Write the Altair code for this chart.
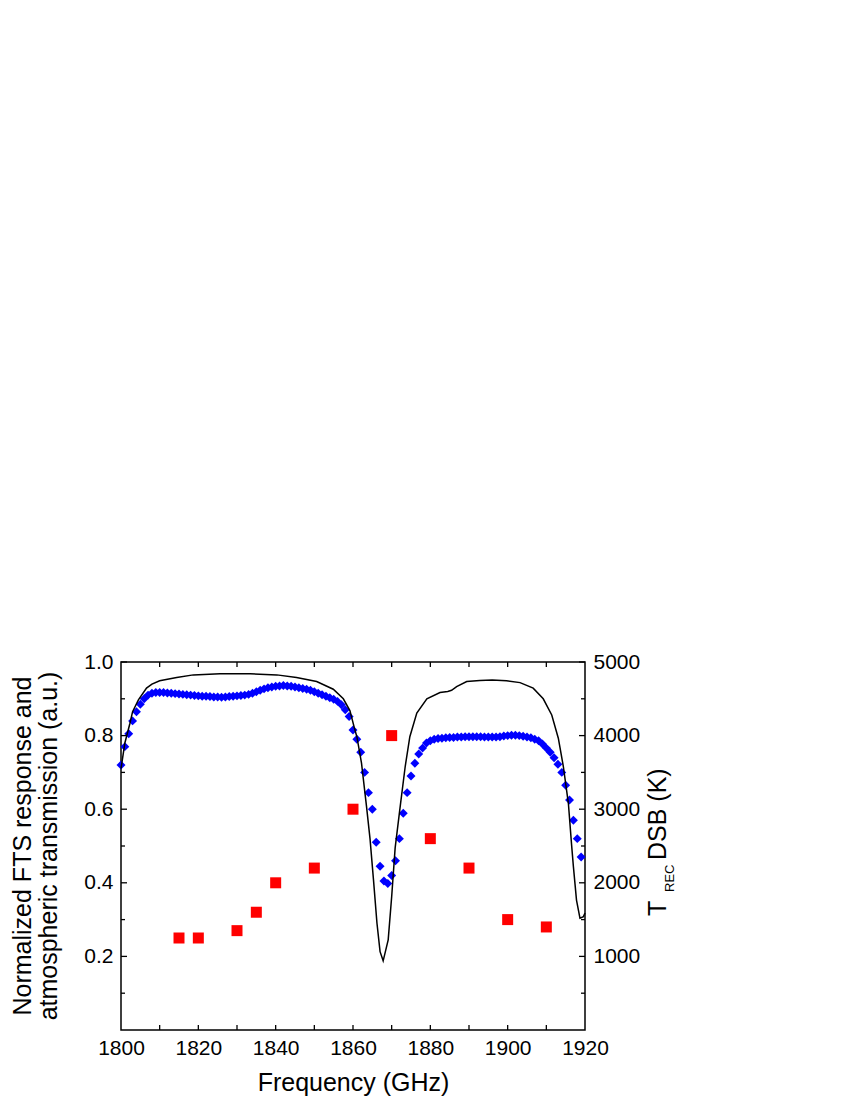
import altair as alt
import pandas as pd

# ---------------- data ----------------
fts_freq = list(range(1800, 1920))
fts_resp = [
    0.72, 0.77, 0.805, 0.84, 0.865, 0.885, 0.90, 0.91, 0.915, 0.917,
    0.917, 0.917, 0.916, 0.915, 0.914, 0.913, 0.912, 0.911, 0.910, 0.909,
    0.908, 0.907, 0.907, 0.906, 0.905, 0.905, 0.904, 0.905, 0.906, 0.907,
    0.908, 0.909, 0.910, 0.912, 0.915, 0.919, 0.923, 0.927, 0.930, 0.932,
    0.934, 0.935, 0.936, 0.935, 0.934, 0.932, 0.930, 0.928, 0.926, 0.923,
    0.919, 0.915, 0.911, 0.907, 0.903, 0.899, 0.893, 0.884, 0.870, 0.852,
    0.815, 0.79, 0.755, 0.70, 0.645, 0.60, 0.51, 0.445, 0.405, 0.398,
    0.42, 0.46, 0.52, 0.589, 0.645, 0.69, 0.725, 0.75, 0.766, 0.78,
    0.786, 0.79, 0.792, 0.793, 0.794, 0.795, 0.795, 0.796, 0.796, 0.797,
    0.797, 0.797, 0.797, 0.797, 0.796, 0.796, 0.796, 0.796, 0.797, 0.799,
    0.800, 0.801, 0.801, 0.800, 0.798, 0.796, 0.794, 0.790, 0.786, 0.777,
    0.766, 0.755, 0.74, 0.722, 0.70, 0.665, 0.625, 0.57, 0.52, 0.47,
]

atm_freq = [1800, 1801, 1802.3, 1803, 1804.5, 1806.6, 1808, 1810, 1814.4, 1818.7,
            1825.6, 1833.4, 1840.3, 1845.4, 1850.6, 1854.9, 1857.5, 1859.2, 1860.5, 1861,
            1862.2, 1863.5, 1864.4, 1865.3, 1866.2, 1867.0, 1867.8, 1869.1, 1870.0, 1870.9,
            1872.2, 1873.5, 1874.7, 1876.5, 1879.1, 1882.5, 1884.5, 1885.5, 1886.8, 1889.4,
            1892.8, 1896, 1899.7, 1903.2, 1906.6, 1909.2, 1911.4, 1913.1, 1914.4, 1915.7,
            1916.5, 1917.0, 1917.8, 1918.7, 1919.6, 1920]
atm_trans = [0.71, 0.78, 0.833, 0.865, 0.897, 0.929, 0.94, 0.949, 0.958, 0.965,
             0.968, 0.968, 0.965, 0.958, 0.947, 0.926, 0.90, 0.868, 0.815, 0.797,
             0.725, 0.607, 0.52, 0.408, 0.29, 0.213, 0.188, 0.245, 0.362, 0.495,
             0.607, 0.716, 0.797, 0.861, 0.90, 0.917, 0.92, 0.923, 0.933, 0.947,
             0.95, 0.951, 0.949, 0.944, 0.929, 0.90, 0.856, 0.793, 0.716, 0.616,
             0.507, 0.444, 0.353, 0.304, 0.308, 0.318]

trec_freq = [1815, 1820, 1830, 1835, 1840, 1850, 1860, 1870, 1880, 1890, 1900, 1910]
trec_k = [1250, 1250, 1350, 1600, 2000, 2200, 3000, 4000, 2600, 2200, 1500, 1400]

x_labels = [1800, 1820, 1840, 1860, 1880, 1900, 1920]
x_minor = [1810, 1820, 1830, 1840, 1850, 1860, 1870, 1880, 1890, 1900, 1910]
left_major = [0.2, 0.4, 0.6, 0.8, 1.0]
left_minor = [0.1, 0.3, 0.5, 0.7, 0.9]
right_major = [1000, 2000, 3000, 4000, 5000]
right_minor = [500, 1500, 2500, 3500, 4500]

left_title = ["Normalized FTS response and", "atmospheric transmission (a.u.)"]
x_title = "Frequency (GHz)"

# ---------------- chart ----------------
W, H = 464, 368
FONT = "Liberation Sans"
LBL = 21
TTL = 25

xscale = alt.Scale(domain=[1800, 1920], nice=False, zero=False)
xaxis = alt.Axis(values=x_labels, format="d", title=x_title, ticks=False, domain=False,
                 grid=False, labelFontSize=LBL, labelPadding=7, labelColor="black",
                 labelFlush=False, labelOverlap=False,
                 titleFontSize=TTL, titleFontWeight="normal", titleColor="black",
                 titlePadding=12, labelFont=FONT, titleFont=FONT)
lscale = alt.Scale(domain=[0, 1], nice=False, zero=False)
rscale = alt.Scale(domain=[0, 5000], nice=False, zero=False)


def X(field):
    return alt.X(f"{field}:Q", scale=xscale, axis=xaxis)


fts_df = pd.DataFrame({"f": fts_freq, "v": fts_resp})
atm_df = pd.DataFrame({"f": atm_freq, "v": atm_trans})
trec_df = pd.DataFrame({"f": trec_freq, "v": trec_k})

fts = alt.Chart(fts_df).mark_point(shape="diamond", filled=True, color="#0000ff",
                                    size=80, opacity=1).encode(
    x=X("f"),
    y=alt.Y("v:Q", scale=lscale,
            axis=alt.Axis(orient="left", values=left_major, format=".1f", title=None,
                          ticks=False, domain=False, grid=False, labelFontSize=LBL,
                          labelFlush=False, labelOverlap=False,
                          labelPadding=8, labelColor="black", labelFont=FONT)),
)

atm = alt.Chart(atm_df).mark_line(color="black", strokeWidth=1.5).encode(
    x=X("f"),
    y=alt.Y("v:Q", scale=lscale, axis=None),
)

trec = alt.Chart(trec_df).mark_point(shape="square", filled=True, color="#ff0000",
                                     size=121, opacity=1).encode(
    x=X("f"),
    y=alt.Y("v:Q", scale=rscale,
            axis=alt.Axis(orient="right", values=right_major, format="d", title=None,
                          ticks=False, domain=False, grid=False, labelFontSize=LBL,
                          labelFlush=False, labelOverlap=False,
                          labelPadding=8, labelColor="black", labelFont=FONT)),
)

# inward tick marks
xt_df = pd.DataFrame({"t": x_minor})
xt_bottom = alt.Chart(xt_df).mark_rule(color="black", strokeWidth=1.3).encode(
    x=X("t"), y=alt.value(H), y2=alt.value(H - 5))
xt_top = alt.Chart(xt_df).mark_rule(color="black", strokeWidth=1.3).encode(
    x=X("t"), y=alt.value(0), y2=alt.value(5))

lmaj = alt.Chart(pd.DataFrame({"t": left_major})).mark_rule(color="black", strokeWidth=1.3).encode(
    y=alt.Y("t:Q", scale=lscale, axis=None), x=alt.value(0), x2=alt.value(6))
lmin = alt.Chart(pd.DataFrame({"t": left_minor})).mark_rule(color="black", strokeWidth=1.3).encode(
    y=alt.Y("t:Q", scale=lscale, axis=None), x=alt.value(0), x2=alt.value(4))
rmaj = alt.Chart(pd.DataFrame({"t": right_major})).mark_rule(color="black", strokeWidth=1.3).encode(
    y=alt.Y("t:Q", scale=rscale, axis=None), x=alt.value(W), x2=alt.value(W - 6))
rmin = alt.Chart(pd.DataFrame({"t": right_minor})).mark_rule(color="black", strokeWidth=1.3).encode(
    y=alt.Y("t:Q", scale=rscale, axis=None), x=alt.value(W), x2=alt.value(W - 4))


def label(text, x, y, size, align="center", baseline="alphabetic"):
    return alt.Chart(pd.DataFrame({"s": [text]})).mark_text(
        angle=270, fontSize=size, font=FONT, color="black", align=align, baseline=baseline
    ).encode(text="s:N", x=alt.value(x), y=alt.value(y))


lt1 = label(left_title[0], -90, 184, TTL)
lt2 = label(left_title[1], -64, 184, TTL)
rt_T = label("T", 545, 254, TTL, align="left")
rt_sub = label("REC", 553, 230, 13, align="left")
rt_rest = label("DSB (K)", 545, 198, TTL, align="left")

chart = alt.layer(
    fts, atm, trec, xt_bottom, xt_top, lmaj, lmin, rmaj, rmin,
    lt1, lt2, rt_T, rt_sub, rt_rest,
).resolve_scale(y="independent").properties(
    width=W, height=H,
    autosize=alt.AutoSizeParams(type="none"),
    padding={"left": 113, "top": 654, "right": 150, "bottom": 71},
).configure_view(stroke="black", strokeWidth=1.5)

chart.save("out.html", embed_options={"renderer": "svg", "actions": False})
